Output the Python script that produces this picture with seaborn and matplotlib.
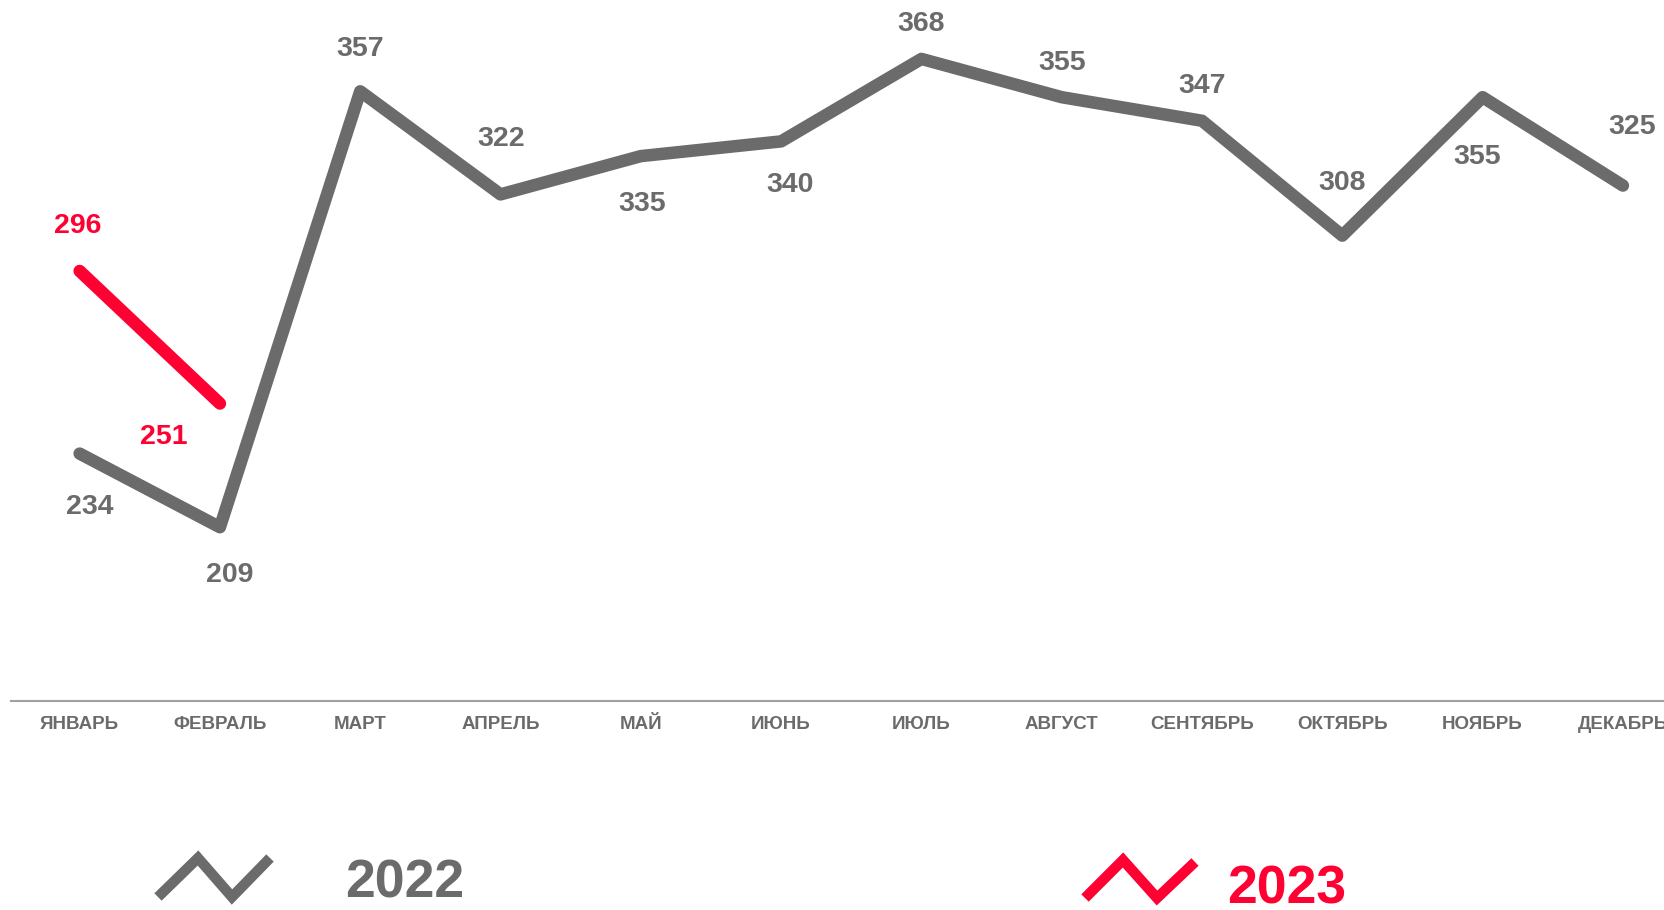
import numpy as np
import pandas as pd
import seaborn as sns
import matplotlib.pyplot as plt
from matplotlib.lines import Line2D

months = ["ЯНВАРЬ", "ФЕВРАЛЬ", "МАРТ", "АПРЕЛЬ", "МАЙ", "ИЮНЬ",
          "ИЮЛЬ", "АВГУСТ", "СЕНТЯБРЬ", "ОКТЯБРЬ", "НОЯБРЬ", "ДЕКАБРЬ"]
values_2022 = [234, 209, 357, 322, 335, 340, 368, 355, 347, 308, 355, 325]
values_2023 = [296, 251]

# label offsets in pixels (dx, dy), dy up
off_2022 = [(10, -53), (10, -48), (0, 42), (1, 55), (1, -48), (9, -44),
            (0, 35), (0, 34), (0, 35), (0, 53), (-5, -60), (9, 59)]
off_2023 = [(-2, 45), (-56, -33)]

GRAY = "#6b6b6b"
RED = "#ff0033"

sns.set_style("white")
plt.rcParams['font.family'] = ['Liberation Sans', 'DejaVu Sans']
plt.rcParams['font.weight'] = 'bold'

fig = plt.figure(figsize=(16.65, 9.1), dpi=100)
ax = fig.add_axes([10.6 / 1665, 1 - 701 / 910, 1 - 10.6 / 1665, 701 / 910])

d22 = pd.DataFrame({"x": np.arange(len(values_2022)), "v": values_2022})
d23 = pd.DataFrame({"x": np.arange(len(values_2023)), "v": values_2023})

sns.lineplot(data=d22, x="x", y="v", color=GRAY, lw=9, ax=ax,
             solid_capstyle="round", solid_joinstyle="round")
sns.lineplot(data=d23, x="x", y="v", color=RED, lw=9, ax=ax,
             solid_capstyle="round", solid_joinstyle="round")

for (x, v), (dx, dy) in zip(d22.values, off_2022):
    ax.annotate(str(v), (x, v), xytext=(dx, dy), textcoords="offset pixels",
                ha="center", va="center", fontsize=20.5, fontweight="bold",
                color=GRAY)
for (x, v), (dx, dy) in zip(d23.values, off_2023):
    ax.annotate(str(v), (x, v), xytext=(dx, dy), textcoords="offset pixels",
                ha="center", va="center", fontsize=20.5, fontweight="bold",
                color=RED)

ax.set_xlim(-0.492, 11.30)
ax.set_ylim(150, 388)
ax.set_xticks(range(len(months)))
ax.set_xticklabels(months, fontsize=13.5, fontweight="bold", color=GRAY)
ax.set_yticks([])
ax.set_xlabel("")
ax.set_ylabel("")
ax.tick_params(axis="x", length=0, pad=11)
sns.despine(ax=ax, left=True)
ax.spines["bottom"].set_color("#a0a0a0")
ax.spines["bottom"].set_linewidth(1.5)

# legend glyphs
def glyph(xs, ys, color):
    fig.add_artist(Line2D([x / 1665 for x in xs], [1 - y / 910 for y in ys],
                          transform=fig.transFigure, color=color, lw=7.5,
                          solid_capstyle="butt", solid_joinstyle="miter"))

glyph([158, 198, 232, 270], [897, 858, 897, 858], GRAY)
glyph([1085, 1123, 1157, 1195], [898, 860, 898, 862], RED)
fig.text(345 / 1665, 1 - 883 / 910, "2022", fontsize=38.5, fontweight="bold",
         color=GRAY, ha="left", va="center")
fig.text(1227 / 1665, 1 - 889 / 910, "2023", fontsize=38.5, fontweight="bold",
         color=RED, ha="left", va="center")

fig.savefig("out.png", dpi=100)
